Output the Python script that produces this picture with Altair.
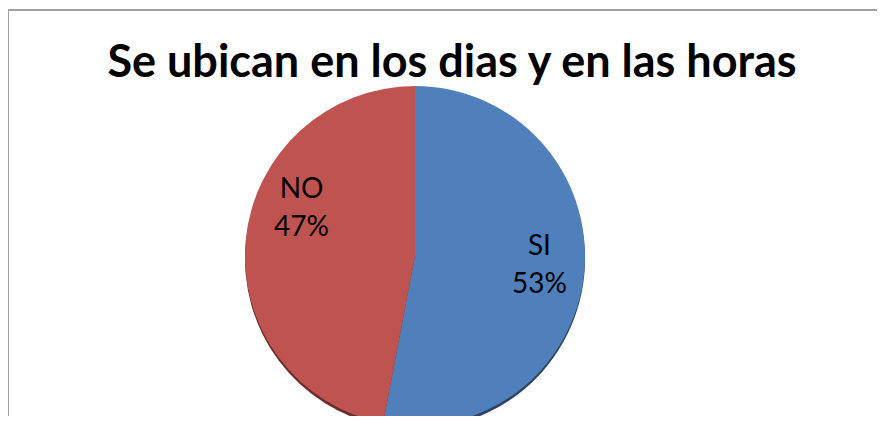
import altair as alt
import pandas as pd

categories = ["SI", "NO"]
values = [53, 47]
order_idx = [0, 1]
colors = ["#4f80bb", "#bf5350"]
shadow_colors = ["#2b4566", "#6b2c2a"]
title_text = "Se ubican en los dias y en las horas"

df = pd.DataFrame({"cat": categories, "value": values, "ord": order_idx})

W, H = 869, 408
CX, CY = 407, 248
R = 170

theta = alt.Theta("value:Q", stack=True)
order = alt.Order("ord:Q")

one = pd.DataFrame({"a": [0]})
border_top = alt.Chart(one).mark_rule(stroke="#a0a0a0", strokeWidth=2).encode(
    x=alt.value(0), x2=alt.value(W + 20), y=alt.value(2)
)
border_left = alt.Chart(one).mark_rule(stroke="#a0a0a0", strokeWidth=2).encode(
    x=alt.value(0), y=alt.value(2), y2=alt.value(H + 20)
)

title = alt.Chart(pd.DataFrame({"t": [title_text]})).mark_text(
    font="Lato", fontWeight="bold", fontSize=45, align="center", baseline="alphabetic", color="black"
).encode(text="t:N", x=alt.value(444), y=alt.value(69))

shadow = alt.Chart(df).mark_arc(outerRadius=R).encode(
    theta=theta, order=order,
    color=alt.Color("cat:N", scale=alt.Scale(domain=categories, range=shadow_colors), legend=None),
    x=alt.value(CX), y=alt.value(CY + 3),
)

pie = alt.Chart(df).mark_arc(outerRadius=R).encode(
    theta=theta, order=order,
    color=alt.Color("cat:N", scale=alt.Scale(domain=categories, range=colors), legend=None),
    x=alt.value(CX), y=alt.value(CY),
)

def label_layer(cat, dx, dy):
    return alt.Chart(df).transform_calculate(
        lab="datum.cat + '\\n' + datum.value + '%'"
    ).mark_text(
        radius=125, font="Lato", fontSize=28, lineHeight=38, lineBreak="\n",
        align="center", baseline="middle", color="black", dx=dx, dy=dy,
    ).encode(
        theta=theta, order=order, text="lab:N",
        x=alt.value(CX), y=alt.value(CY),
        opacity=alt.condition(alt.datum.cat == cat, alt.value(1), alt.value(0)),
    )

chart = alt.layer(
    border_top, border_left, title, shadow, pie,
    label_layer("SI", 0, -21), label_layer("NO", 11, -54)
).resolve_scale(color="independent").properties(
    width=W, height=H, padding=0, autosize=alt.AutoSizeParams(type="none")
).configure_view(stroke="transparent", strokeWidth=0)

chart.save("out.html", embed_options={"renderer": "svg", "actions": False})
